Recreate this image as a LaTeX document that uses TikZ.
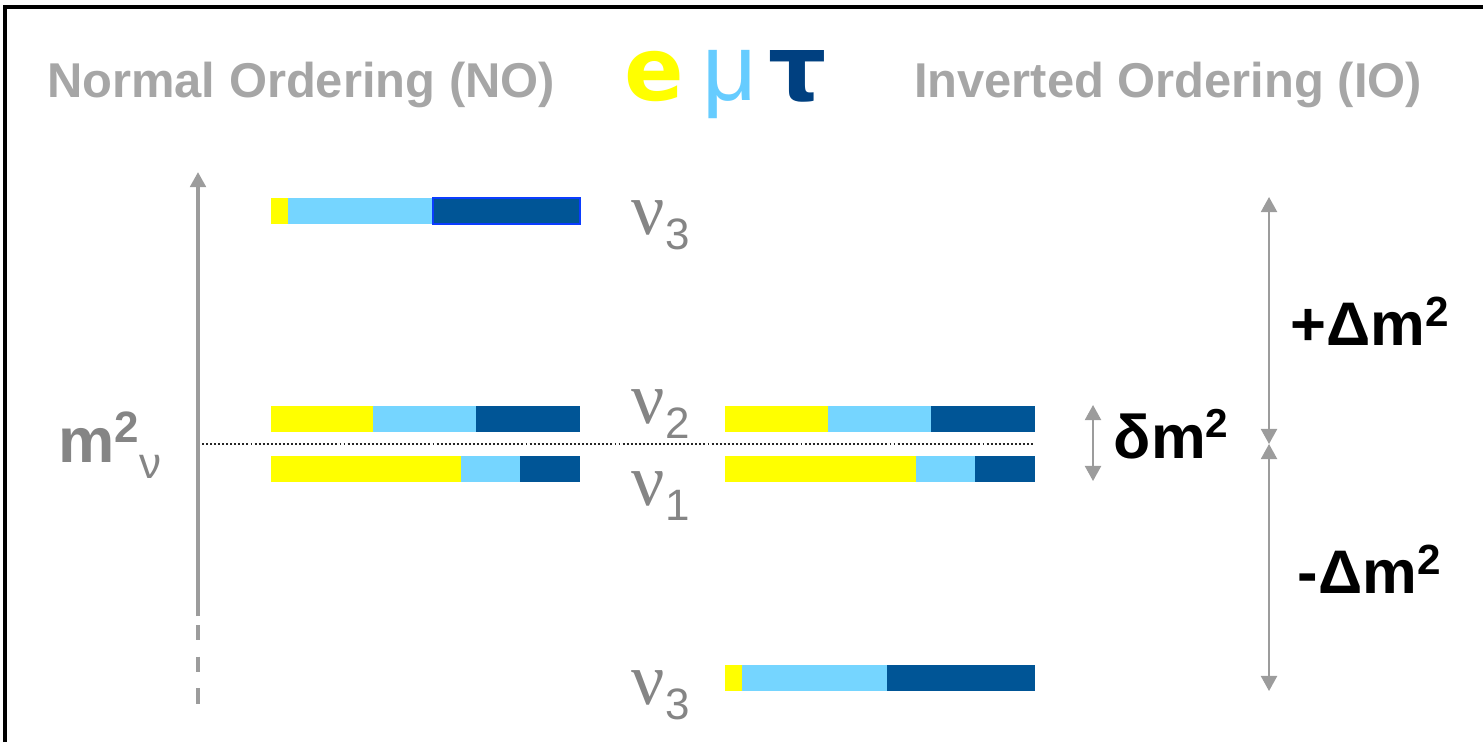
\documentclass[tikz,border=0pt]{standalone}
\usepackage{fontspec}
\setmainfont{Liberation Sans}
\newfontfamily\nufont{Liberation Serif}
\newfontfamily\greekfont{DejaVu Sans}
\usetikzlibrary{arrows.meta}

\definecolor{headgray}{HTML}{A6A6A6}
\definecolor{labgray}{HTML}{858585}
\definecolor{axisgray}{HTML}{9C9C9C}
\definecolor{flavE}{HTML}{FFFF00}
\definecolor{flavMu}{HTML}{75D5FF}
\definecolor{flavTau}{HTML}{005596}
\definecolor{txtMu}{HTML}{66CCFF}
\definecolor{txtTau}{HTML}{004080}
\definecolor{edgeblue}{HTML}{0A3CFF}

% one mass level: y of top edge, then the x positions of the e, mu, tau boundaries
\newcommand\levelbar[5]{%
  \fill[flavE]   (#2,#1) rectangle (#3,#1+26);
  \fill[flavMu]  (#3,#1) rectangle (#4,#1+26);
  \fill[flavTau] (#4,#1) rectangle (#5,#1+26);
}
% subscript index of a mass state
\newcommand\nuidx[1]{\raisebox{-4.5pt}{\fontsize{12.5}{14}\selectfont\rmfamily #1}}

\begin{document}
\begin{tikzpicture}[x=0.01cm,y=-0.01cm,
  heading/.style={text=headgray,font=\bfseries\fontsize{13.9}{16}\selectfont,inner sep=0pt,anchor=base},
  nulab/.style={text=labgray,font=\nufont\fontsize{21}{22}\selectfont,inner sep=0pt,anchor=base west},
  gaplab/.style={text=black,font=\bfseries\fontsize{17.5}{20}\selectfont,inner sep=0pt,anchor=base west},
  gap/.style={draw=axisgray,line width=0.55pt,{Triangle[width=4.6pt,length=4.3pt]}-{Triangle[width=4.6pt,length=4.3pt]}},
]
\useasboundingbox (0,0) rectangle (1483,742);

% frame
\draw[line width=1pt] (5,742) -- (5,7) -- (1483,7);

% headings
\node[heading] (no) at (301,97) {Normal Ordering (NO)};
\node[heading] (io) at (1168,97) {Inverted Ordering (IO)};
\node[inner sep=0pt,anchor=base,text=flavE,font=\greekfont\bfseries\fontsize{25}{28}\selectfont] (fe) at (654,100) {e};
\node[inner sep=0pt,anchor=base,text=txtMu,font=\fontsize{27}{30}\selectfont] (fmu) at (730,100) {μ};
\node[inner sep=0pt,anchor=base,text=txtTau,font=\greekfont\bfseries\fontsize{26}{30}\selectfont] (ftau) at (798,100) {τ};

% mass axis
\coordinate (axbot) at (198,716);
\coordinate (axbrk) at (198,616);
\coordinate (axdash) at (198,625);
\coordinate (axtop) at (198,172);
\draw[axisgray,line width=1.05pt,-{Triangle[width=4.4pt,length=4.3pt]}] (axbrk) -- (axtop);
\draw[axisgray,line width=1.05pt,dash pattern=on 4.4pt off 4.6pt] (axdash) -- (axbot);
\node[inner sep=0pt,anchor=base west,text=labgray,font=\bfseries\fontsize{18}{20}\selectfont] (m2) at (58,462)
  {m\raisebox{5.6pt}{\fontsize{12.5}{13}\selectfont 2}\raisebox{-4.8pt}{\fontsize{12.5}{13}\selectfont\mdseries ν}};

% reference line between the two close levels
\coordinate (refL) at (202,444);
\coordinate (refR) at (1035,444);
\draw[black!85,line width=0.55pt,dash pattern=on 0.55pt off 0.6pt] (refL) -- (refR);

% normal ordering levels
\levelbar{198}{271}{288}{433}{580}
\draw[edgeblue,line width=0.3pt] (433,198) rectangle (580,224);
\levelbar{406}{271}{373}{476}{580}
\levelbar{456}{271}{461}{520}{580}

% inverted ordering levels
\levelbar{406}{725}{828}{931}{1035}
\levelbar{456}{725}{916}{975}{1035}
\levelbar{665}{725}{742}{887}{1035}

% level labels
\node[nulab] (n3a) at (631,234) {ν\nuidx{3}};
\node[nulab] (n2)  at (631,423) {ν\nuidx{2}};
\node[nulab] (n1)  at (631,505) {ν\nuidx{1}};
\node[nulab] (n3b) at (631,704) {ν\nuidx{3}};

% splittings
\coordinate (s2) at (1093,405);
\coordinate (s1) at (1093,481);
\draw[gap] (s2) -- (s1);
\node[gaplab] (dm) at (1113,458) {δm\raisebox{5.8pt}{\fontsize{11.5}{12}\selectfont 2}};

\coordinate (hiTop) at (1269,197);
\coordinate (hiMid) at (1269,444);
\coordinate (hiBot) at (1269,691);
\draw[gap] (hiTop) -- (hiMid);
\draw[gap] (hiMid) -- (hiBot);
\node[gaplab] (pD) at (1290,345) {+Δm\raisebox{5.2pt}{\fontsize{12}{12}\selectfont 2}};
\node[gaplab] (mD) at (1297,593) {-Δm\raisebox{5.2pt}{\fontsize{12}{12}\selectfont 2}};
\end{tikzpicture}
\end{document}
